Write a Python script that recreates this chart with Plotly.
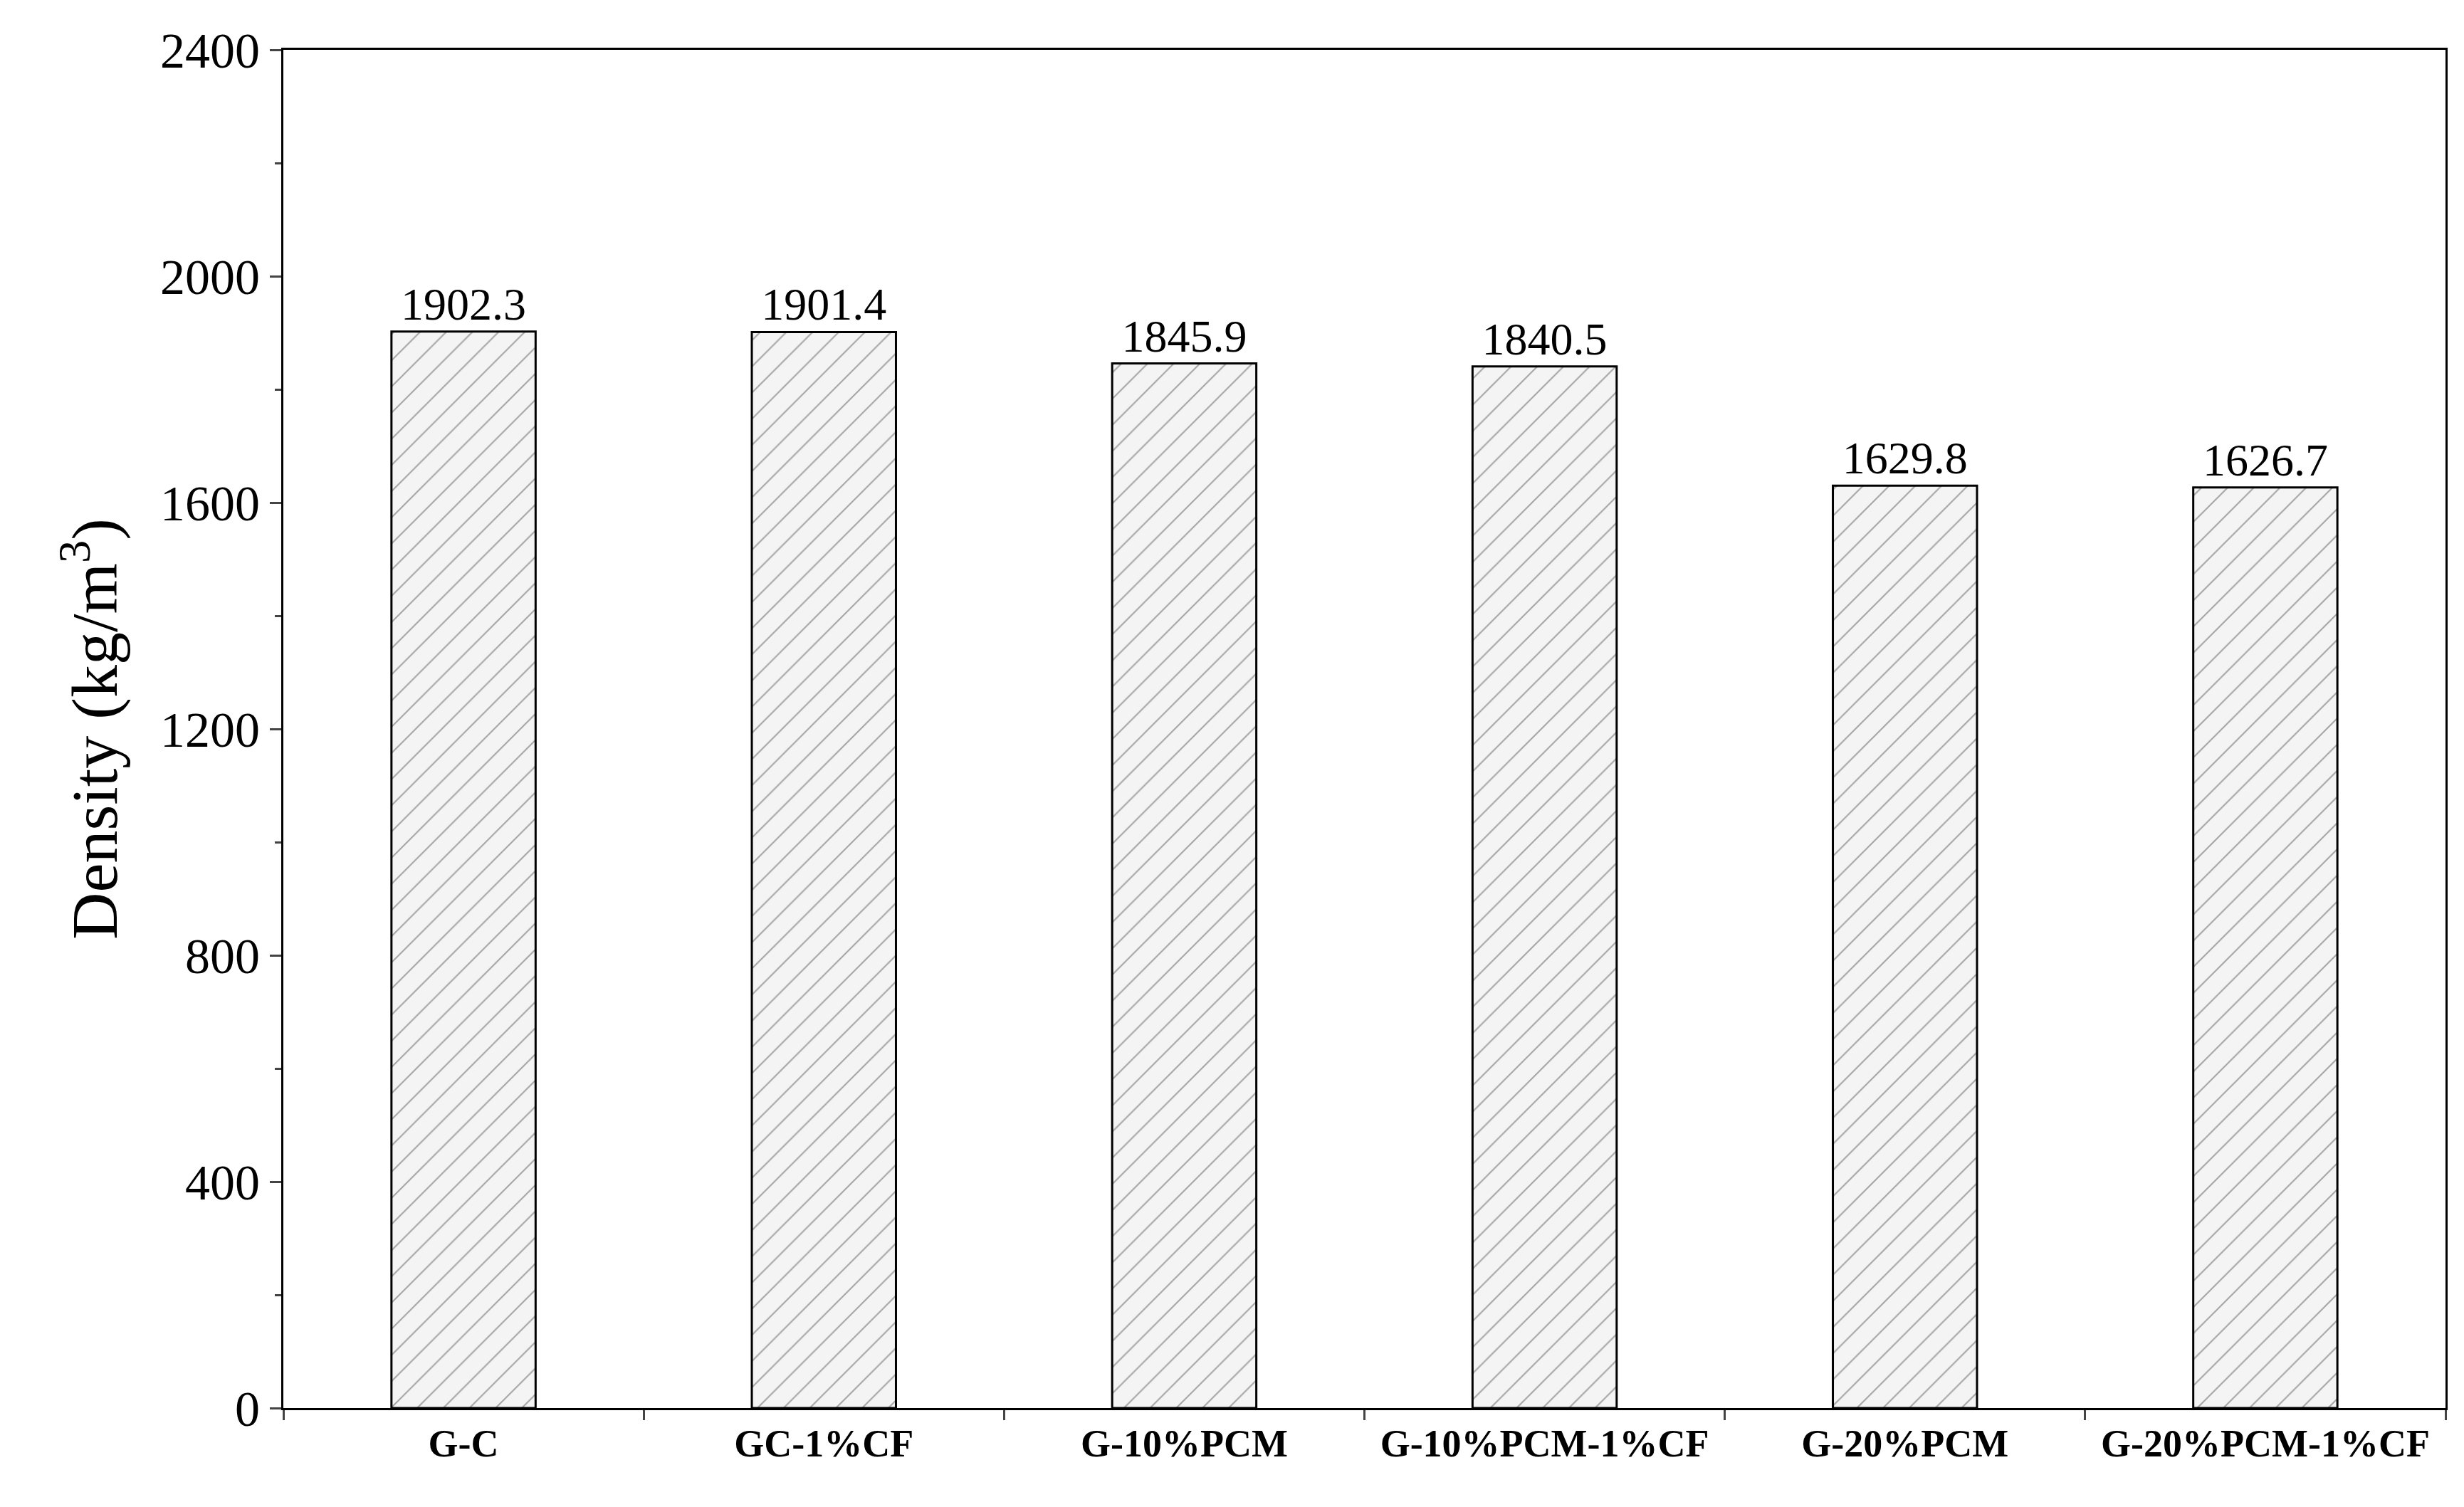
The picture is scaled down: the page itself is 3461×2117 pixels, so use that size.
import plotly.graph_objects as go

categories = ["G-C", "GC-1%CF", "G-10%PCM", "G-10%PCM-1%CF", "G-20%PCM", "G-20%PCM-1%CF"]
density = [1902.3, 1901.4, 1845.9, 1840.5, 1629.8, 1626.7]
labels = ["1902.3", "1901.4", "1845.9", "1840.5", "1629.8", "1626.7"]

fig = go.Figure(go.Bar(
    x=categories, y=density, width=0.4,
    text=labels, textposition="outside", cliponaxis=False,
    textfont=dict(family="Liberation Serif", size=64, color="black"),
    marker=dict(color="white", line=dict(color="black", width=3),
                pattern=dict(shape="/", fgcolor="#555555", bgcolor="#f4f4f4", size=26, solidity=0.08)),
))
fig.update_layout(
    width=3461, height=2117, plot_bgcolor="white", paper_bgcolor="white",
    margin=dict(l=390, r=34, t=62, b=147), showlegend=False,
    font=dict(family="Liberation Serif", color="black"),
)
fig.update_xaxes(showline=True, linecolor="black", linewidth=3, mirror=True,
                 ticks="outside", tickson="boundaries", ticklen=14, tickwidth=3,
                 tickfont=dict(size=54, family="Liberation Serif"), tickprefix="<b>", ticksuffix="</b>")
fig.update_yaxes(range=[0, 2400], dtick=400, showgrid=False, zeroline=False,
                 showline=True, linecolor="black", linewidth=3, mirror=True,
                 ticks="outside", ticklen=16, tickwidth=3,
                 minor=dict(dtick=200, ticks="outside", ticklen=9, tickwidth=3),
                 tickfont=dict(size=70), title=dict(text="Density (kg/m<sup>3</sup>)", font=dict(size=92), standoff=30))
fig.write_html("out.html")
